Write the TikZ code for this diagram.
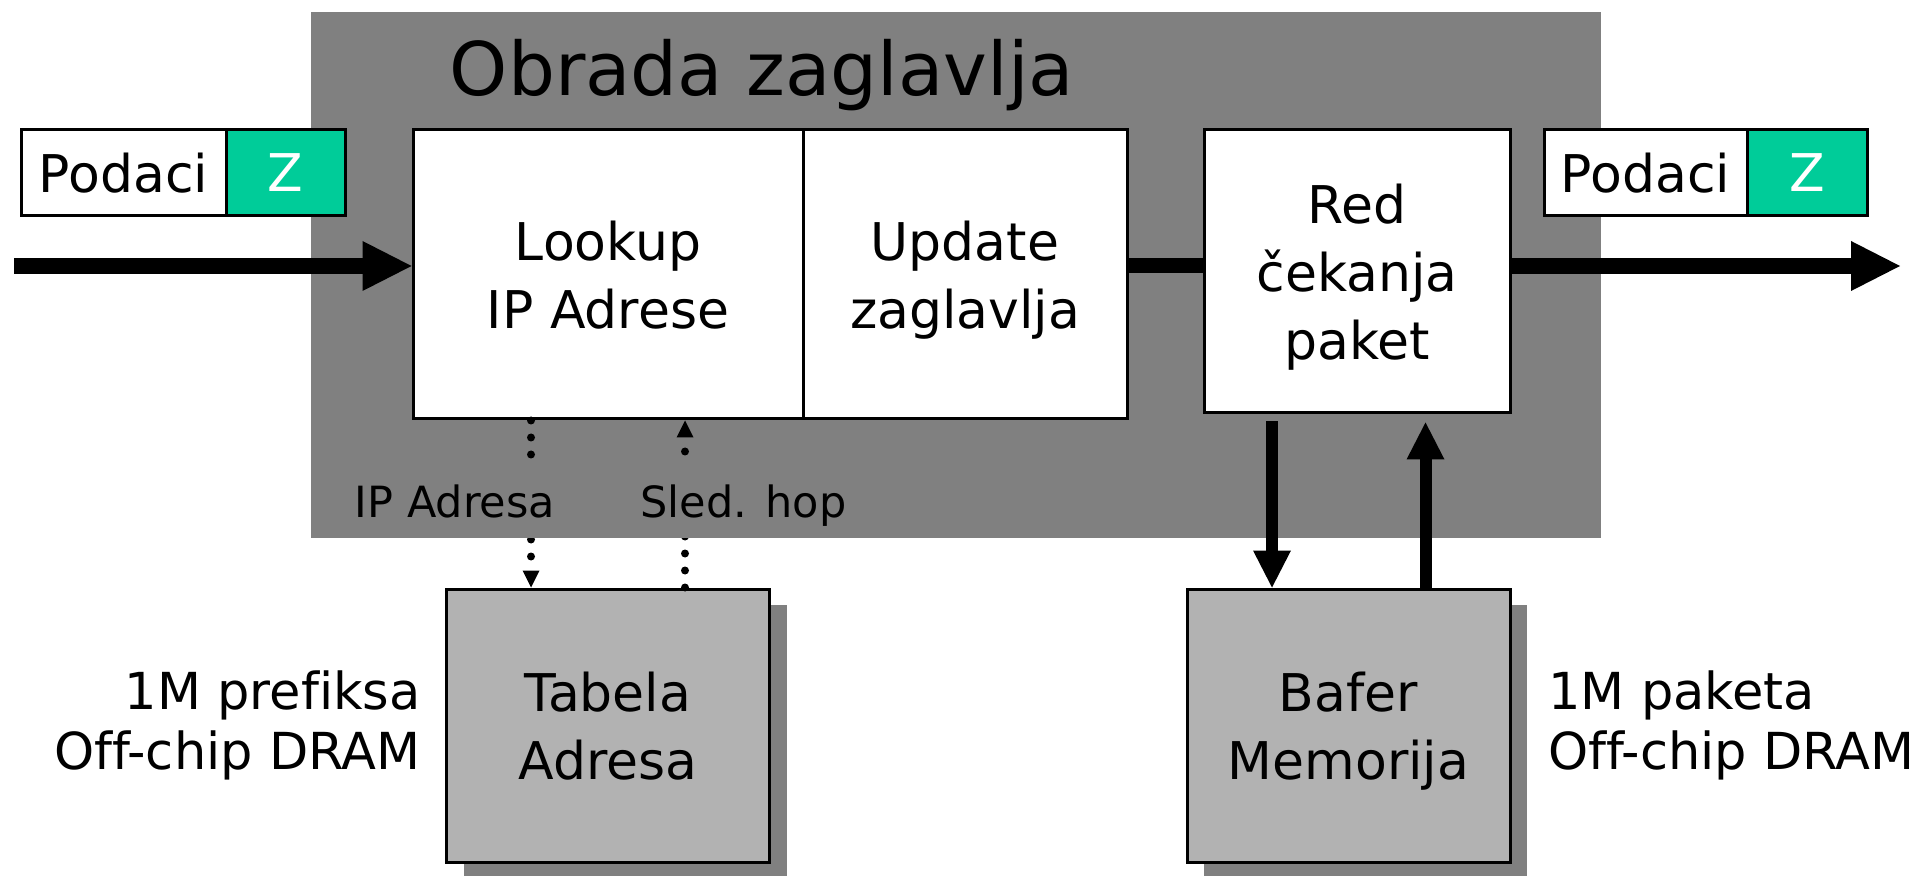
\documentclass[tikz,border=0pt]{standalone}
\usepackage{fontspec}
\setmainfont{DejaVu Sans}[Ligatures={NoCommon}]
\usetikzlibrary{arrows.meta,shadows}

\definecolor{stagegray}{RGB}{128,128,128}
\definecolor{memgray}{RGB}{178,178,178}
\definecolor{hdrgreen}{RGB}{0,204,153}

\tikzset{
  stagebg/.style={fill=stagegray, draw=none, inner sep=0pt},
  headline/.style={inner sep=0pt, font=\fontsize{37}{44}\selectfont},
  box/.style={draw=black, line width=1.5pt, fill=white, inner sep=0pt,
    align=center, text depth=0pt, font=\fontsize{26}{34}\selectfont},
  membox/.style={box, fill=memgray,
    general shadow={fill=stagegray, shadow xshift=8.5pt, shadow yshift=-8pt}},
  hdrdata/.style={box, minimum height=43pt},
  hdrz/.style={box, minimum height=43pt, fill=hdrgreen, text=white},
  note/.style={inner sep=0pt, font=\fontsize{25.5}{30}\selectfont},
  linklabel/.style={fill=stagegray, inner xsep=2pt, inner ysep=0pt,
    text height=28.5pt, text depth=10.5pt, font=\fontsize{21.5}{25}\selectfont},
  flow/.style={line width=8pt, -{Triangle[width=25pt,length=24.5pt,line width=0pt]}},
  bar/.style={line width=7.5pt},
  memflow/.style={line width=6pt, -{Triangle[width=19pt,length=18.5pt,line width=0pt]}},
  dotflow/.style={line width=4pt, line cap=round, dash pattern=on 0pt off 8.5pt,
    -{Triangle[width=8.5pt,length=8.5pt,line width=0pt]}},
}

\begin{document}
\begin{tikzpicture}[x=0.5pt, y=-0.5pt]
\useasboundingbox (0,0) rectangle (1926,876);

% header-processing stage
\node[stagebg, minimum width=645pt, minimum height=263pt] (stage) at (956,275) {};
\node[headline, anchor=base] (title) at (762,96) {Obrada zaglavlja};

% incoming and outgoing packets
\node[hdrdata, minimum width=102.5pt] (dataL) at (123.5,173) {Podaci};
\node[hdrz, minimum width=59.5pt] (zL) at (285.5,173) {Z};
\node[hdrdata, minimum width=101.5pt] (dataR) at (1645.5,173) {Podaci};
\node[hdrz, minimum width=60pt] (zR) at (1807,173) {Z};

% processing blocks
\node[box, minimum width=195pt, minimum height=144.5pt] (lookup) at (608,274.5) {Lookup\\IP Adrese};
\node[box, minimum width=162pt, minimum height=144.5pt] (update) at (965,274.5) {Update\\zaglavlja};
\node[box, minimum width=153pt, minimum height=141.5pt] (queue) at (1357,271.5) {Red\\čekanja\\paket};

% off-chip memories
\node[membox, minimum width=161.5pt, minimum height=136.5pt] (table) at (608,725.5) {Tabela\\Adresa};
\node[membox, minimum width=161.5pt, minimum height=136.5pt] (buffer) at (1348.5,725.5) {Bafer\\Memorija};

\node[note, anchor=east, align=right] (tablenote) at (421,725) {1M prefiksa\\Off-chip DRAM};
\node[note, anchor=west, align=left] (buffernote) at (1548,725) {1M paketa\\Off-chip DRAM};

% reference points for the connectors
\coordinate (src) at (14,266);
\coordinate (dst) at (1900,266);
\coordinate (ipx) at (531,0);
\coordinate (hopx) at (685,0);
\coordinate (wrx) at (1272,0);
\coordinate (rdx) at (1425.5,0);

% packet path
\draw[flow] (src) -- (src -| lookup.west);
\draw[bar] (update.east |- src) -- (queue.west |- src);
\draw[flow] (queue.east |- src) -- (dst);

% route lookup
\draw[dotflow] (lookup.south -| ipx) -- (table.north -| ipx);
\draw[dotflow] (table.north -| hopx) -- (lookup.south -| hopx);
\node[linklabel, anchor=base] (iplabel) at (455,517) {IP Adresa};
\node[linklabel, anchor=base] (hoplabel) at (743.5,517) {Sled. hop};

% buffering
\draw[memflow, shorten <=3.5pt] (queue.south -| wrx) -- (buffer.north -| wrx);
\draw[memflow, shorten >=4pt] (buffer.north -| rdx) -- (queue.south -| rdx);
\end{tikzpicture}
\end{document}
